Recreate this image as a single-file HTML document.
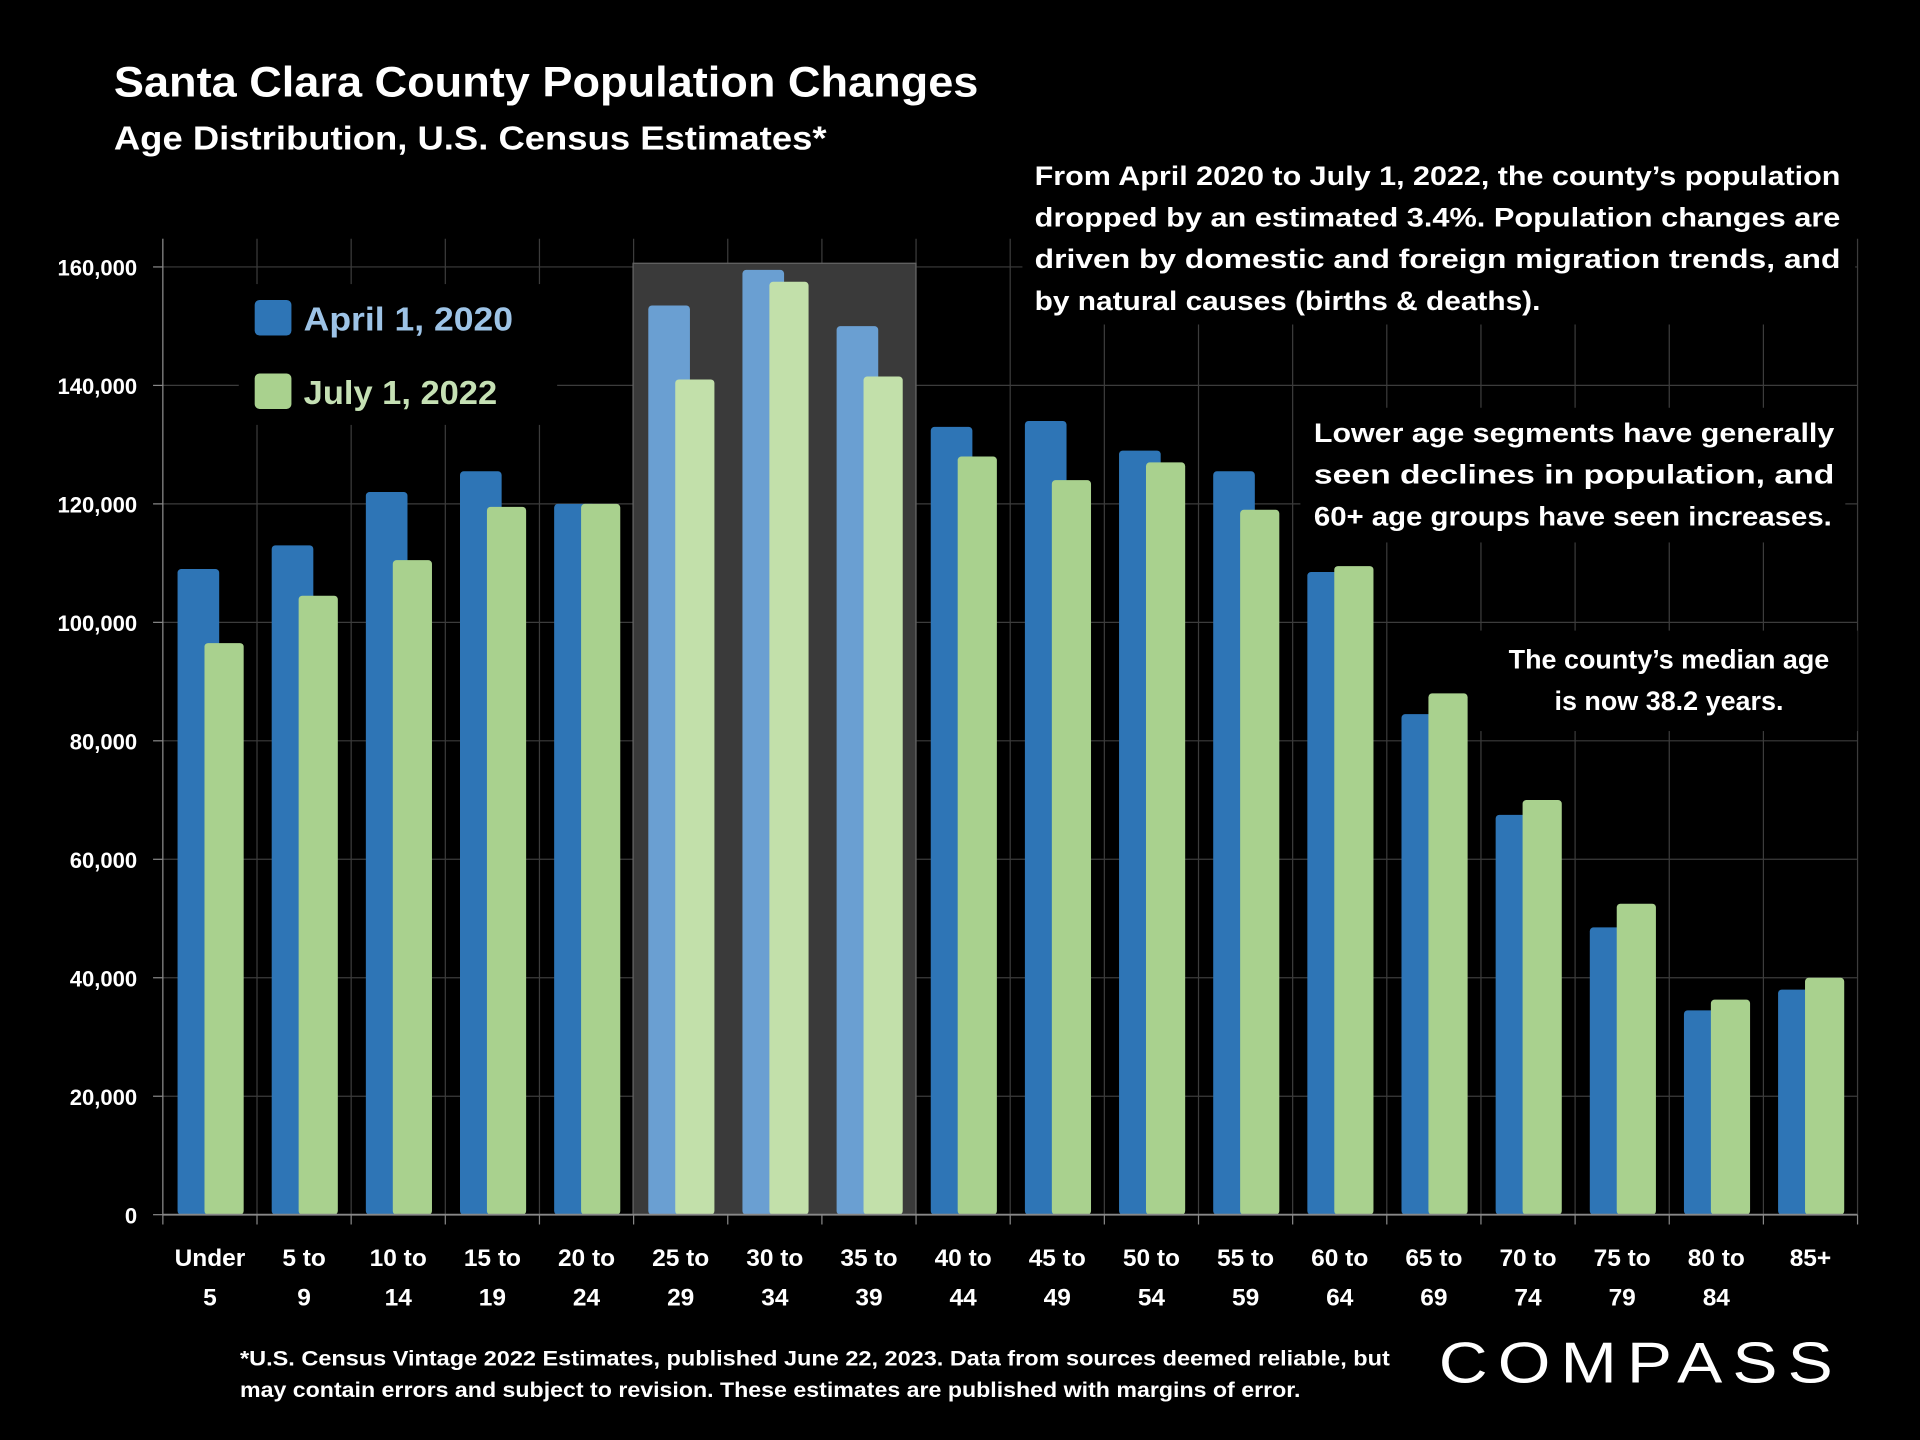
<!DOCTYPE html>
<html><head><meta charset="utf-8"><style>
html,body{margin:0;padding:0;background:#000;}
svg{display:block;font-family:"Liberation Sans",sans-serif;font-weight:bold;}
</style></head><body>
<svg id="chart" width="1920" height="1440" viewBox="0 0 1568 1176" xmlns="http://www.w3.org/2000/svg">
<rect width="1568" height="1176" fill="#000"/>
<text x="93" y="79" fill="#fff" font-size="35" textLength="706" lengthAdjust="spacingAndGlyphs">Santa Clara County Population Changes</text>
<text x="93" y="122" fill="#fff" font-size="27" textLength="582" lengthAdjust="spacingAndGlyphs">Age Distribution, U.S. Census Estimates*</text>
<g id="grid"></g>
<rect x="517" y="215" width="231" height="777" fill="#3a3a3a" stroke="#666" stroke-width="1"/>
<g id="bars"></g>
<g id="axes"></g>
<rect x="195" y="232" width="260" height="115" fill="#000"/>
<rect x="208" y="245" width="30" height="29" rx="4" fill="#2e75b6"/>
<text x="248" y="270" fill="#9dc3e6" font-size="27" textLength="171" lengthAdjust="spacingAndGlyphs">April 1, 2020</text>
<rect x="208" y="305" width="30" height="29" rx="4" fill="#a9d18e"/>
<text x="248" y="330" fill="#c5e0b4" font-size="27" textLength="158" lengthAdjust="spacingAndGlyphs">July 1, 2022</text>
<rect x="835" y="125" width="680" height="140" fill="#000"/>
<g fill="#fff" font-size="22">
<text x="845" y="151" textLength="658" lengthAdjust="spacingAndGlyphs">From April 2020 to July 1, 2022, the county’s population</text>
<text x="845" y="185" textLength="658" lengthAdjust="spacingAndGlyphs">dropped by an estimated 3.4%. Population changes are</text>
<text x="845" y="219" textLength="658" lengthAdjust="spacingAndGlyphs">driven by domestic and foreign migration trends, and</text>
<text x="845" y="253" textLength="413" lengthAdjust="spacingAndGlyphs">by natural causes (births &amp; deaths).</text>
</g>
<rect x="1062" y="333" width="445" height="110" fill="#000"/>
<g fill="#fff" font-size="22">
<text x="1073" y="361" textLength="425" lengthAdjust="spacingAndGlyphs">Lower age segments have generally</text>
<text x="1073" y="395" textLength="425" lengthAdjust="spacingAndGlyphs">seen declines in population, and</text>
<text x="1073" y="429" textLength="423" lengthAdjust="spacingAndGlyphs">60+ age groups have seen increases.</text>
</g>
<rect x="1205" y="515" width="312" height="82" fill="#000"/>
<g fill="#fff" font-size="22" text-anchor="middle">
<text x="1363" y="546">The county’s median age</text>
<text x="1363" y="580">is now 38.2 years.</text>
</g>
<g fill="#fff" font-size="17">
<text x="196" y="1115" textLength="939" lengthAdjust="spacingAndGlyphs">*U.S. Census Vintage 2022 Estimates, published June 22, 2023. Data from sources deemed reliable, but</text>
<text x="196" y="1141" textLength="866" lengthAdjust="spacingAndGlyphs">may contain errors and subject to revision. These estimates are published with margins of error.</text>
</g>
<text x="1175" y="1129" fill="#fff" font-size="47" font-weight="normal" letter-spacing="7" textLength="330" lengthAdjust="spacingAndGlyphs">COMPASS</text>
</svg>
<script>
const categories=[["Under","5"],["5 to","9"],["10 to","14"],["15 to","19"],["20 to","24"],["25 to","29"],["30 to","34"],["35 to","39"],["40 to","44"],["45 to","49"],["50 to","54"],["55 to","59"],["60 to","64"],["65 to","69"],["70 to","74"],["75 to","79"],["80 to","84"],["85+",""]];
const pop2020=[109000,113000,122000,125500,120000,153500,159500,150000,133000,134000,129000,125500,108500,84500,67500,48500,34500,38000];
const pop2022=[96500,104500,110500,119500,120000,141000,157500,141500,128000,124000,127000,119000,109500,88000,70000,52500,36300,40000];
const yTicks=[0,20000,40000,60000,80000,100000,120000,140000,160000];
const highlighted=[5,6,7];
const NS="http://www.w3.org/2000/svg";
const X0=133,X1=1517,Y0=992,Y160=218;
const cw=(X1-X0)/categories.length;
function xPos(i){return X0+i*cw;}
function yPos(v){return Y0-(v/160000)*(Y0-Y160);}
function mk(tag,attrs,parent){const e=document.createElementNS(NS,tag);for(const k in attrs)e.setAttribute(k,attrs[k]);parent.appendChild(e);return e;}
const grid=document.getElementById('grid'),bars=document.getElementById('bars'),axes=document.getElementById('axes');
yTicks.forEach(t=>{
  if(t>0){const l=mk('line',{x1:X0,x2:X1,y1:yPos(t),y2:yPos(t),stroke:'#3c3c3c','stroke-width':1},grid);
  
  }
  const tk=mk('line',{x1:X0-8,x2:X0,y1:yPos(t),y2:yPos(t),stroke:'#888','stroke-width':1},axes);
  
  
  const tx=mk('text',{x:112,y:yPos(t)+7,fill:'#fff','font-size':18,'text-anchor':'end'},axes);
  tx.textContent=t.toLocaleString('en-US');
  
  
});
for(let i=0;i<=categories.length;i++){
  const l=mk('line',{x1:xPos(i),x2:xPos(i),y1:195,y2:Y0,stroke:'#3c3c3c','stroke-width':1},grid);
  
  
  const tk=mk('line',{x1:xPos(i),x2:xPos(i),y1:Y0,y2:Y0+8,stroke:'#888','stroke-width':1},axes);
  
  
}
const ax=mk('line',{x1:X0,x2:X1,y1:Y0,y2:Y0,stroke:'#888','stroke-width':1.5},axes);


const ay=mk('line',{x1:X0,x2:X0,y1:195,y2:Y0,stroke:'#888','stroke-width':1},axes);


categories.forEach((c,i)=>{
  const hl=highlighted.includes(i);
  const b=mk('rect',{x:xPos(i)+12,y:yPos(pop2020[i]),width:34,height:Y0-yPos(pop2020[i]),rx:3,fill:hl?'#6a9fd2':'#2e75b6'},bars);
  
  
  const g=mk('rect',{x:xPos(i)+34,y:yPos(pop2022[i]),width:32,height:Y0-yPos(pop2022[i]),rx:3,fill:hl?'#c2e0aa':'#a9d18e'},bars);
  
  
  c.forEach((ln,j)=>{if(!ln)return;
    const t=mk('text',{x:xPos(i)+cw/2,y:1034+j*32,fill:'#fff','font-size':20,'text-anchor':'middle'},axes);
    t.textContent=ln;
    
    
  });
});
</script>
</body></html>
